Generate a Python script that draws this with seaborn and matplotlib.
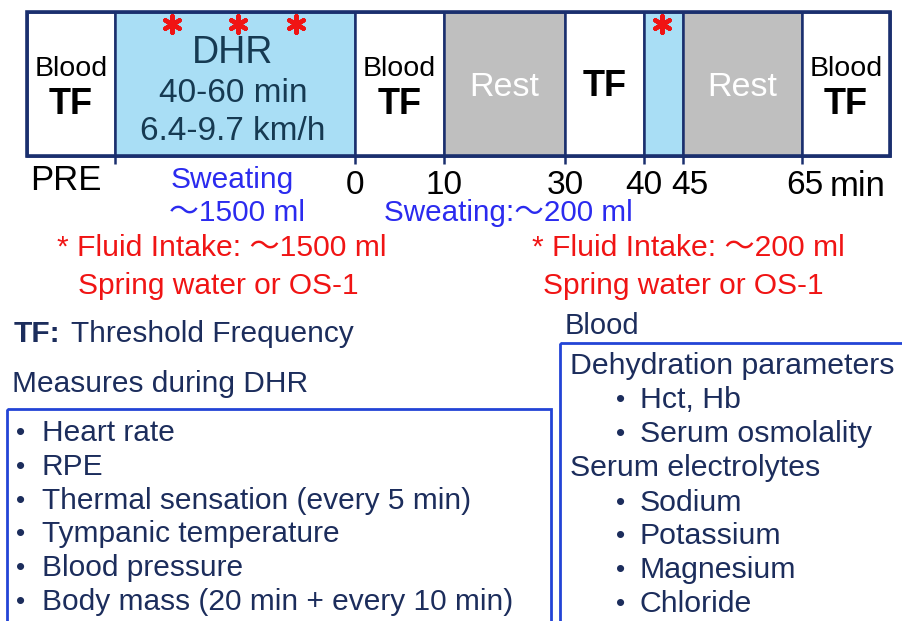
import matplotlib
matplotlib.use("Agg")
import matplotlib.pyplot as plt
import seaborn as sns

# protocol blocks, left to right (schematic widths, not to scale)
block_kind = ["test", "dhr", "test", "rest", "tf", "dhr", "rest", "test"]
time_labels = ["0", "10", "30", "40", "45", "65"]
dhr_lines = ["DHR", "40-60 min", "6.4-9.7 km/h"]
sweat_pre = ["Sweating", "～1500 ml"]
sweat_post = "Sweating:～200 ml"
intake_pre = ["* Fluid Intake: ～1500 ml", "Spring water or OS-1"]
intake_post = ["* Fluid Intake: ～200 ml", "Spring water or OS-1"]
dhr_measures = ["Heart rate", "RPE", "Thermal sensation (every 5 min)",
                "Tympanic temperature", "Blood pressure",
                "Body mass (20 min + every 10 min)"]
blood_groups = [("Dehydration parameters", ["Hct, Hb", "Serum osmolality"]),
                ("Serum electrolytes", ["Sodium", "Potassium", "Magnesium", "Chloride"])]

# layout (pixels)
edges = [27, 115, 355, 444, 565, 644, 683, 802, 890]
box_top, box_bot = 12, 156
fills = {"test": "white", "dhr": "#a9def5", "rest": "#bfbfbf", "tf": "white"}
intake_marks_x = [172, 238, 296, 662]

NAVY = "#1c2d5c"
LINE = "#1a2f6e"
BLUE_BOX = "#2344d6"
BLUE_TXT = "#2b2bef"
RED = "#f01414"

sns.set_theme(style="white")
plt.rcParams["font.family"] = ["Liberation Sans", "Noto Sans CJK JP", "DejaVu Sans"]

fig = plt.figure(figsize=(9.03, 6.21), dpi=100)
ax = fig.add_axes([0, 0, 1, 1])
ax.set_xlim(0, 903)
ax.set_ylim(621, 0)
ax.axis("off")

lefts = edges[:-1]
widths = [b - a for a, b in zip(edges[:-1], edges[1:])]
ax.barh(y=(box_top + box_bot) / 2, width=widths, left=lefts,
        height=box_bot - box_top, color=[fills[k] for k in block_kind],
        edgecolor=LINE, linewidth=1.8, align="center")
ax.add_patch(plt.Rectangle((edges[0], box_top), edges[-1] - edges[0], box_bot - box_top,
                           fill=False, edgecolor=LINE, linewidth=2.6))
ax.vlines(edges[1:-1], box_bot, box_bot + 8, color=LINE, linewidth=1.8)

# block texts
for i, kind in enumerate(block_kind):
    cx = (edges[i] + edges[i + 1]) / 2
    if kind == "test":
        ax.text(cx, 69, "Blood", ha="center", va="center", fontsize=20.5, color="black")
        ax.text(cx, 104, "TF", ha="center", va="center", fontsize=26,
                fontweight="bold", color="black")
    elif kind == "rest":
        ax.text(cx, 88, "Rest", ha="center", va="center", fontsize=24.5, color="white")
    elif kind == "tf":
        ax.text(cx, 87, "TF", ha="center", va="center", fontsize=26,
                fontweight="bold", color="black")

ax.text(233, 53, dhr_lines[0], ha="center", va="center", fontsize=27, color="#163a52")
ax.text(233, 94, dhr_lines[1], ha="center", va="center", fontsize=24, color="#163a52")
ax.text(233, 132, dhr_lines[2], ha="center", va="center", fontsize=24, color="#163a52")

# fluid intake marks
ax.scatter(intake_marks_x, [24] * len(intake_marks_x), marker=(6, 2, 0),
           s=140, color=RED, linewidths=3.2, zorder=5)

# time axis labels
ax.text(66, 181, "PRE", ha="center", va="center", fontsize=25, color="black")
label_x = [355, 444, 565, 644, 690, 805]
for x, lab in zip(label_x, time_labels):
    ax.text(x, 186, lab, ha="center", va="center", fontsize=24, color="black")
ax.text(858, 186, "min", ha="center", va="center", fontsize=25, color="black")

ax.text(232, 180, sweat_pre[0], ha="center", va="center", fontsize=21.5, color=BLUE_TXT)
ax.text(237, 213, sweat_pre[1], ha="center", va="center", fontsize=21.5, color=BLUE_TXT)
ax.text(508, 213, sweat_post, ha="center", va="center", fontsize=21.3, color=BLUE_TXT)

ax.text(57, 248, intake_pre[0], ha="left", va="center", fontsize=21.7, color=RED)
ax.text(78, 286, intake_pre[1], ha="left", va="center", fontsize=21.5, color=RED)
ax.text(532, 248, intake_post[0], ha="left", va="center", fontsize=21.7, color=RED)
ax.text(543, 286, intake_post[1], ha="left", va="center", fontsize=21.5, color=RED)

# legend / notes
ax.text(14, 334, "TF:", ha="left", va="center", fontsize=21.5, fontweight="bold", color=NAVY)
ax.text(71, 334, "Threshold Frequency", ha="left", va="center", fontsize=21.5, color=NAVY)
ax.text(12, 384, "Measures during DHR", ha="left", va="center", fontsize=21.5, color=NAVY)

ax.add_patch(plt.Rectangle((7, 409), 544, 240, fill=False, edgecolor=BLUE_BOX, linewidth=2))
for j, item in enumerate(dhr_measures):
    y = 433 + j * 33.8
    ax.text(21, y, "•", ha="center", va="center", fontsize=19, color=NAVY)
    ax.text(42, y, item, ha="left", va="center", fontsize=21.5, color=NAVY)

ax.text(565, 326, "Blood", ha="left", va="center", fontsize=21, color=NAVY)
ax.add_patch(plt.Rectangle((560, 343), 400, 300, fill=False, edgecolor=BLUE_BOX, linewidth=2))
y = 366
for head, items in blood_groups:
    ax.text(570, y, head, ha="left", va="center", fontsize=21.8, color=NAVY)
    y += 34.5
    for item in items:
        ax.text(621, y, "•", ha="center", va="center", fontsize=19, color=NAVY)
        ax.text(640, y, item, ha="left", va="center", fontsize=21.8, color=NAVY)
        y += 33.8

fig.savefig("out.png", dpi=100)
